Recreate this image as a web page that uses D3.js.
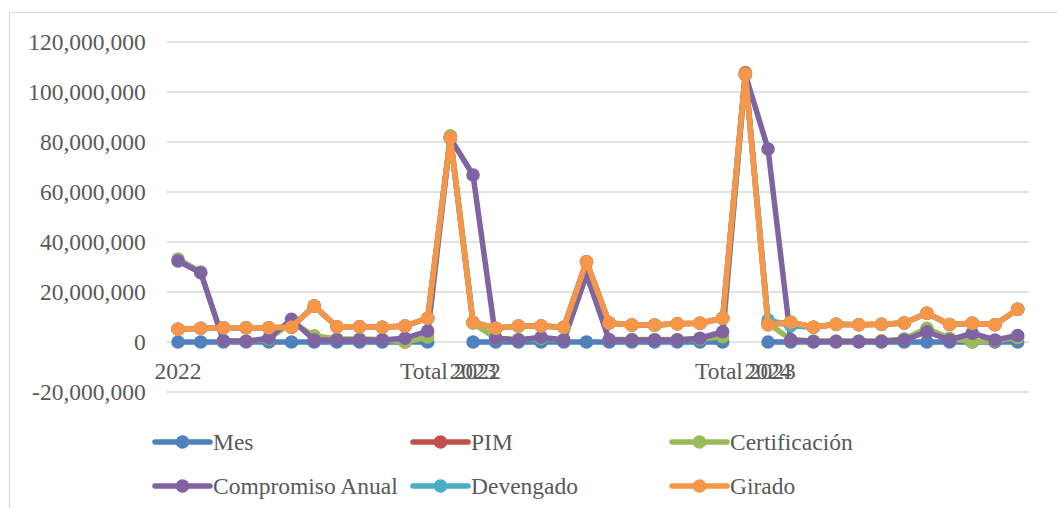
<!DOCTYPE html>
<html>
<head>
<meta charset="utf-8">
<script src="https://cdn.jsdelivr.net/npm/d3@7"></script>
<style>
  html, body { margin: 0; padding: 0; background: #fff; }
  svg { display: block; }
  text { font-family: "Liberation Serif", "Times New Roman", serif; fill: #595959; }
</style>
</head>
<body>
<svg id="chart" width="1057" height="508"></svg>
<script>
// ---- Data ----
const categoryLabels = [
  "2022", "", "", "", "", "", "", "", "", "", "", "",
  "Total 2022",
  "2023", "", "", "", "", "", "", "", "", "", "", "",
  "Total 2023",
  "2024", "", "", "", "", "", "", "", "", "", "", ""
];

const seriesNames = ["Mes", "PIM", "Certificación", "Compromiso Anual", "Devengado", "Girado"];
const seriesColors = ["#4F81BD", "#C0504D", "#9BBB59", "#8064A2", "#4BACC6", "#F79646"];

const mes = [
  1, 2, 3, 4, 5, 6, 7, 8, 9, 10, 11, 12,
  null,
  1, 2, 3, 4, 5, 6, 7, 8, 9, 10, 11, 12,
  null,
  1, 2, 3, 4, 5, 6, 7, 8, 9, 10, 11, 12
];
const pim = [
  5100000, 5500000, 5700000, 5700000, 5700000, 5900000, 14400000, 6100000, 6100000, 5900000, 6400000, 9500000,
  82000000,
  7800000, 5500000, 6400000, 6400000, 5900000, 32100000, 7600000, 6800000, 6800000, 7300000, 7500000, 9500000,
  107700000,
  6900000, 7900000, 5900000, 7100000, 6900000, 7100000, 7600000, 11500000, 7000000, 7500000, 6900000, 13100000
];
const certificacion = [
  33200000, 28000000, 500000, 300000, 1200000, 8000000, 2500000, 1200000, 1200000, 1000000, 0, 2000000,
  82500000,
  7500000, 1500000, 1000000, 1500000, 1000000, 27500000, 1000000, 1000000, 1000000, 1000000, 1200000, 2100000,
  107000000,
  7500000, 1000000, 400000, 400000, 400000, 500000, 1200000, 5500000, 1500000, 100000, 500000, 1800000
];
const compromisoAnual = [
  32400000, 27700000, 500000, 300000, 1500000, 9100000, 800000, 800000, 800000, 800000, 1500000, 4400000,
  81500000,
  66800000, 1500000, 800000, 1900000, 800000, 27000000, 900000, 800000, 800000, 800000, 1500000, 4100000,
  107000000,
  77200000, 800000, 200000, 200000, 200000, 200000, 800000, 4100000, 800000, 3500000, 800000, 2600000
];
const devengado = [
  5100000, 5500000, 5700000, 5700000, 5700000, 5900000, 14400000, 6100000, 6100000, 5900000, 6400000, 9500000,
  81700000,
  7800000, 5500000, 6400000, 6400000, 5900000, 32100000, 7600000, 6800000, 6800000, 7300000, 7500000, 9500000,
  107200000,
  8800000, 6500000, 5900000, 7100000, 6900000, 7100000, 7600000, 11500000, 7000000, 7500000, 6900000, 13100000
];
const girado = [
  5100000, 5500000, 5700000, 5700000, 5700000, 5900000, 14400000, 6100000, 6100000, 5900000, 6400000, 9500000,
  81700000,
  7800000, 5500000, 6400000, 6400000, 5900000, 32100000, 7600000, 6800000, 6800000, 7300000, 7500000, 9500000,
  107200000,
  6900000, 7900000, 5900000, 7100000, 6900000, 7100000, 7600000, 11500000, 7000000, 7500000, 6900000, 13100000
];

const yTicks = [-20000000, 0, 20000000, 40000000, 60000000, 80000000, 100000000, 120000000];

const seriesValues = [mes, pim, certificacion, compromisoAnual, devengado, girado];

// ---- Layout ----
const svg = d3.select("#chart");
const plot = { left: 166.7, right: 1029, top: 42, bottom: 392 };

// outer chart border
svg.append("rect")
  .attr("x", 9.5).attr("y", 12.5)
  .attr("width", 1100).attr("height", 600)
  .attr("fill", "none").attr("stroke", "#D9D9D9").attr("stroke-width", 1);

const idx = d3.range(categoryLabels.length);
const x = d3.scaleBand().domain(idx).range([plot.left, plot.right]).padding(0);
const cx = i => x(i) + x.bandwidth() / 2;
const y = d3.scaleLinear().domain([-20000000, 120000000]).range([plot.bottom, plot.top]);

// gridlines
svg.append("g")
  .selectAll("line")
  .data(yTicks)
  .join("line")
  .attr("x1", plot.left).attr("x2", plot.right)
  .attr("y1", d => y(d)).attr("y2", d => y(d))
  .attr("stroke", "#D9D9D9").attr("stroke-width", 1.5);

// y axis labels (hyphen-minus as in the reference)
const fmt = d3.format(",");
const yAxis = d3.axisLeft(y).tickValues(yTicks).tickSize(0).tickPadding(21)
  .tickFormat(d => fmt(d).replace("\u2212", "-"));
const gy = svg.append("g").attr("transform", `translate(${plot.left},0)`).call(yAxis);
gy.select(".domain").remove();
gy.selectAll("text")
  .style("font-family", '"Liberation Serif", "Times New Roman", serif')
  .style("font-size", "23.5px").attr("fill", "#595959");

// x axis labels (at value 0)
const xAxis = d3.axisBottom(x).tickSize(0).tickPadding(20).tickFormat(i => categoryLabels[i]);
const gx = svg.append("g").attr("transform", `translate(0,${y(0)})`).call(xAxis);
gx.select(".domain").remove();
gx.selectAll("text")
  .style("font-family", '"Liberation Serif", "Times New Roman", serif')
  .style("font-size", "23.5px").attr("fill", "#595959");

// series
const line = d3.line()
  .defined(d => d.v !== null)
  .x(d => cx(d.i))
  .y(d => y(d.v));

seriesValues.forEach((vals, s) => {
  const pts = vals.map((v, i) => ({ i, v }));
  const g = svg.append("g");
  g.append("path")
    .datum(pts)
    .attr("d", line)
    .attr("fill", "none")
    .attr("stroke", seriesColors[s])
    .attr("stroke-width", 5.5)
    .attr("stroke-linejoin", "round")
    .attr("stroke-linecap", "round");
  g.selectAll("circle")
    .data(pts.filter(d => d.v !== null))
    .join("circle")
    .attr("cx", d => cx(d.i))
    .attr("cy", d => y(d.v))
    .attr("r", 6.8)
    .attr("fill", seriesColors[s]);
});

// legend
const legendCols = [155, 413, 672];
const legendRows = [442, 486];
const lg = svg.append("g");
seriesNames.forEach((name, s) => {
  const lx = legendCols[s % 3];
  const ly = legendRows[Math.floor(s / 3)];
  const item = lg.append("g").attr("transform", `translate(${lx},${ly})`);
  item.append("line")
    .attr("x1", 0).attr("x2", 55).attr("y1", 0).attr("y2", 0)
    .attr("stroke", seriesColors[s]).attr("stroke-width", 5.5).attr("stroke-linecap", "round");
  item.append("circle").attr("cx", 27.5).attr("cy", 0).attr("r", 6.8).attr("fill", seriesColors[s]);
  item.append("text")
    .attr("x", 58).attr("y", 0).attr("dy", "0.33em")
    .style("font-size", "23.5px")
    .text(name);
});
</script>
</body>
</html>
